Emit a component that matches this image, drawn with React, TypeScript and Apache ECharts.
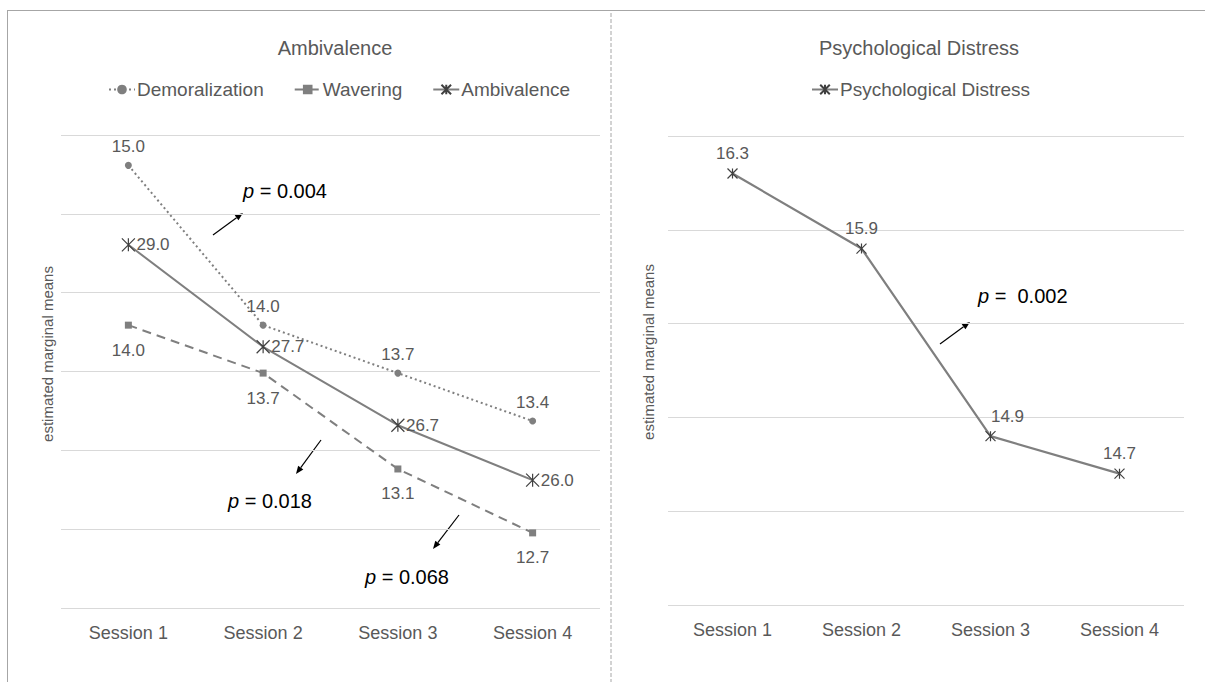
import React, { useEffect, useRef } from "react";
import * as echarts from "echarts";

const categories = ["Session 1", "Session 2", "Session 3", "Session 4"];
const demoralization = [15.0, 14.0, 13.7, 13.4];
const wavering = [14.0, 13.7, 13.1, 12.7];
const ambivalence = [29.0, 27.7, 26.7, 26.0];
const psychDistress = [16.3, 15.9, 14.9, 14.7];
const leftLegend = ["Demoralization", "Wavering", "Ambivalence"];
const rightLegend = ["Psychological Distress"];
const annotations = [
  { text: "0.004", x: 243, y: 191, from: [213, 235], to: [243, 213] },
  { text: "0.018", x: 228, y: 501, from: [321, 440], to: [296, 474] },
  { text: "0.068", x: 365, y: 577, from: [459, 515], to: [433, 549] },
  { text: " 0.002", x: 978, y: 296, from: [940, 344], to: [970, 322] },
];

const FONT = "'Liberation Sans', Arial, sans-serif";
const GRAY = "#595959";
const LINE = "#7f7f7f";
const STAR = "path://M0,0L10,10M10,0L0,10M5,0L5,10";

function arrow(from: number[], to: number[]) {
  const [x1, y1] = from;
  const [x2, y2] = to;
  const dx = x2 - x1, dy = y2 - y1;
  const len = Math.sqrt(dx * dx + dy * dy);
  const ux = dx / len, uy = dy / len;
  const hl = 8, hw = 3.2;
  const bx = x2 - ux * hl, by = y2 - uy * hl;
  return [
    { type: "line", shape: { x1, y1, x2: bx, y2: by }, style: { stroke: "#000", lineWidth: 1.2 } },
    {
      type: "polygon",
      shape: { points: [[x2, y2], [bx - uy * hw, by + ux * hw], [bx + uy * hw, by - ux * hw]] },
      style: { fill: "#000" },
    },
  ];
}

export default function App() {
  const ref = useRef<HTMLDivElement>(null);
  useEffect(() => {
    const chart = echarts.init(ref.current!, null, { renderer: "svg" });
    const xAxisBase = {
      type: "category",
      data: categories,
      axisTick: { show: false },
      axisLine: { show: false },
      axisLabel: { color: GRAY, fontSize: 18, margin: 16, fontFamily: FONT },
    };
    const gridY = {
      type: "value",
      axisLabel: { show: false },
      axisLine: { show: false },
      axisTick: { show: false },
      splitLine: { show: true, lineStyle: { color: "#d9d9d9", width: 1 } },
    };
    const labelBase = { show: true, color: GRAY, fontSize: 17, fontFamily: FONT, formatter: (p: any) => p.value.toFixed(1) };
    const graphics: any[] = [
      { type: "line", shape: { x1: 7, y1: 10.5, x2: 1205, y2: 10.5 }, style: { stroke: "#a6a6a6", lineWidth: 1 } },
      { type: "line", shape: { x1: 7.5, y1: 10, x2: 7.5, y2: 682 }, style: { stroke: "#a6a6a6", lineWidth: 1 } },
      { type: "line", shape: { x1: 611, y1: 13, x2: 611, y2: 682 }, style: { stroke: "#a6a6a6", lineWidth: 1, lineDash: [4, 2] } },
      {
        type: "text", x: 47, y: 354, rotation: Math.PI / 2,
        style: { text: "estimated marginal means", fontSize: 15, fill: GRAY, fontFamily: FONT, align: "center", verticalAlign: "middle" },
      },
      {
        type: "text", x: 648, y: 352, rotation: Math.PI / 2,
        style: { text: "estimated marginal means", fontSize: 15, fill: GRAY, fontFamily: FONT, align: "center", verticalAlign: "middle" },
      },
    ];
    annotations.forEach((a) => {
      graphics.push({
        type: "text", x: a.x, y: a.y,
        style: {
          text: "{i|p}{n| = " + a.text + "}",
          align: "left", verticalAlign: "middle",
          rich: {
            i: { fontStyle: "italic", fontSize: 20, fill: "#000", fontFamily: FONT },
            n: { fontSize: 20, fill: "#000", fontFamily: FONT },
          },
        },
      });
      graphics.push(...arrow(a.from, a.to));
    });

    chart.setOption({
      animation: false,
      textStyle: { fontFamily: FONT },
      title: [
        { text: "Ambivalence", left: 330, top: 33, textAlign: "center", textStyle: { color: GRAY, fontSize: 20, fontWeight: "normal", fontFamily: FONT } },
        { text: "Psychological Distress", left: 914, top: 33, textAlign: "center", textStyle: { color: GRAY, fontSize: 20, fontWeight: "normal", fontFamily: FONT } },
      ],
      legend: [
        { data: leftLegend, left: 103, top: 75, itemWidth: 26, itemHeight: 12, itemGap: 30, textStyle: { color: GRAY, fontSize: 19, fontFamily: FONT, padding: [0, 0, 0, -3] } },
        { data: rightLegend, left: 806, top: 75, itemWidth: 26, itemHeight: 12, textStyle: { color: GRAY, fontSize: 19, fontFamily: FONT, padding: [0, 0, 0, -3] } },
      ],
      grid: [
        { left: 61, top: 135, width: 539, height: 473 },
        { left: 668, top: 136, width: 516, height: 469 },
      ],
      xAxis: [
        { ...xAxisBase, gridIndex: 0 },
        { ...xAxisBase, gridIndex: 1 },
      ],
      yAxis: [
        { ...gridY, gridIndex: 0, min: 0, max: 6, interval: 1 },
        { type: "value", gridIndex: 0, min: 12.23, max: 15.19, show: false },
        { type: "value", gridIndex: 0, min: 24.37, max: 30.4, show: false },
        { ...gridY, gridIndex: 1, min: 14, max: 16.5, interval: 0.5 },
      ],
      series: [
        {
          name: "Demoralization", type: "line", xAxisIndex: 0, yAxisIndex: 1, data: demoralization,
          symbol: "circle", symbolSize: 7,
          itemStyle: { color: LINE },
          lineStyle: { color: LINE, width: 2, type: [2, 3] },
          label: { ...labelBase, position: "top", distance: 7 },
        },
        {
          name: "Wavering", type: "line", xAxisIndex: 0, yAxisIndex: 1, data: wavering,
          symbol: "rect", symbolSize: 7,
          itemStyle: { color: LINE },
          lineStyle: { color: LINE, width: 2, type: [9, 6] },
          label: { ...labelBase, position: "bottom", distance: 13 },
        },
        {
          name: "Ambivalence", type: "line", xAxisIndex: 0, yAxisIndex: 2, data: ambivalence,
          symbol: STAR, symbolSize: 13,
          itemStyle: { color: "#404040", borderColor: "#404040", borderWidth: 1.2 },
          lineStyle: { color: LINE, width: 2 },
          label: { ...labelBase, position: "right", distance: 1 },
        },
        {
          name: "Psychological Distress", type: "line", xAxisIndex: 1, yAxisIndex: 3,
          data: psychDistress.map((v, i) => (i === 2 ? { value: v, label: { offset: [17, 0] } } : v)),
          symbol: STAR, symbolSize: 10,
          itemStyle: { color: "#404040", borderColor: "#404040", borderWidth: 1.2 },
          lineStyle: { color: LINE, width: 2.2 },
          label: { ...labelBase, position: "top", distance: 6 },
        },
      ],
      graphic: graphics,
    });
    return () => chart.dispose();
  }, []);
  return <div ref={ref} style={{ position: "fixed", left: 0, top: 0, width: 1205, height: 682, background: "#fff" }} />;
}
